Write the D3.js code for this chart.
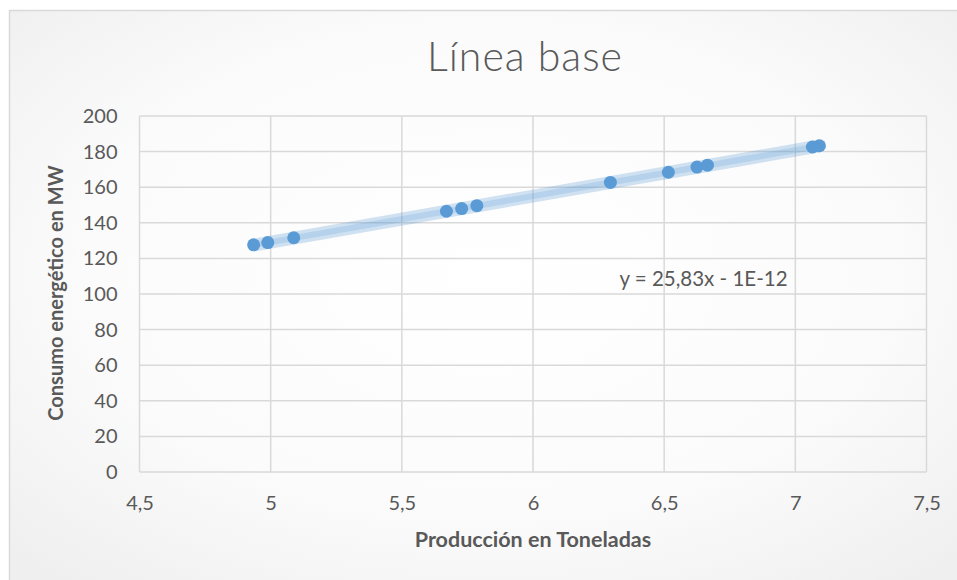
<!DOCTYPE html>
<html>
<head>
<meta charset="utf-8">
<script src="https://cdn.jsdelivr.net/npm/d3@7"></script>
<style>
  html, body { margin: 0; padding: 0; background: #ffffff; }
  svg { display: block; }
  text { font-family: Lato, "Open Sans", sans-serif; }
</style>
</head>
<body>
<svg id="chart" width="957" height="580"></svg>
<script>
// Production (tonnes) vs. energy consumption (MW)
const produccion = [4.935, 4.989, 5.088, 5.670, 5.728, 5.786, 6.295, 6.516, 6.625, 6.665, 7.065, 7.092];
const consumo    = [127.6, 128.9, 131.6, 146.5, 148.0, 149.6, 162.7, 168.4, 171.3, 172.4, 182.6, 183.3];

// Linear trend shown on the chart
const pendiente = 25.83;
const intercepto = -1e-12;
const etiquetaTendencia = "y = 25,83x - 1E-12";

const xTicks = [4.5, 5, 5.5, 6, 6.5, 7, 7.5];
const yTicks = [0, 20, 40, 60, 80, 100, 120, 140, 160, 180, 200];

const titulo = "Línea base";
const tituloX = "Producción en Toneladas";
const tituloY = "Consumo energético en MW";

const svg = d3.select("#chart");
const W = 957, H = 580;
const plot = { left: 139.5, right: 926.5, top: 116, bottom: 472 };

// Chart area background with soft radial highlight
const defs = svg.append("defs");
const grad = defs.append("radialGradient")
  .attr("id", "bg").attr("cx", "50%").attr("cy", "45%").attr("r", "70%");
grad.append("stop").attr("offset", "0%").attr("stop-color", "#ffffff");
grad.append("stop").attr("offset", "60%").attr("stop-color", "#fbfbfb");
grad.append("stop").attr("offset", "100%").attr("stop-color", "#efefef");

svg.append("rect")
  .attr("x", 9.5).attr("y", 10.5).attr("width", W).attr("height", H)
  .attr("fill", "url(#bg)").attr("stroke", "#d9d9d9").attr("stroke-width", 1.5);

const x = d3.scaleLinear().domain([4.5, 7.5]).range([plot.left, plot.right]);
const y = d3.scaleLinear().domain([0, 200]).range([plot.bottom, plot.top]);

// Gridlines
const grid = svg.append("g");
grid.selectAll(".gy").data(yTicks).join("line")
  .attr("x1", plot.left).attr("x2", plot.right)
  .attr("y1", d => y(d)).attr("y2", d => y(d))
  .attr("stroke", "#d9d9d9").attr("stroke-width", 1.5);
grid.selectAll(".gx").data(xTicks).join("line")
  .attr("x1", d => x(d)).attr("x2", d => x(d))
  .attr("y1", plot.top).attr("y2", plot.bottom)
  .attr("stroke", "#d9d9d9").attr("stroke-width", 1.5);

const fmt = d => String(d).replace(".", ",");

// Axes (labels only, no domain/ticks)
const yAxis = svg.append("g")
  .attr("transform", `translate(${plot.left},0)`)
  .call(d3.axisLeft(y).tickValues(yTicks).tickSize(0).tickPadding(22).tickFormat(fmt));
yAxis.select(".domain").remove();
yAxis.selectAll("text").attr("fill", "#595959").attr("font-size", 20)
  .style("font-family", "Lato, 'Open Sans', sans-serif");

const xAxis = svg.append("g")
  .attr("transform", `translate(0,${plot.bottom})`)
  .call(d3.axisBottom(x).tickValues(xTicks).tickSize(0).tickPadding(24).tickFormat(fmt));
xAxis.select(".domain").remove();
xAxis.selectAll("text").attr("fill", "#595959").attr("font-size", 20)
  .style("font-family", "Lato, 'Open Sans', sans-serif");

// Trend line
const xMin = d3.min(produccion), xMax = d3.max(produccion);
const tendencia = [xMin, xMax].map(v => [v, pendiente * v + intercepto]);
const line = d3.line().x(d => x(d[0])).y(d => y(d[1]));
svg.append("path").datum(tendencia).attr("d", line)
  .attr("fill", "none").attr("stroke", "#5b9bd5").attr("stroke-opacity", 0.28)
  .attr("stroke-width", 13).attr("stroke-linecap", "butt");
svg.append("path").datum(tendencia).attr("d", line)
  .attr("fill", "none").attr("stroke", "#5b9bd5").attr("stroke-opacity", 0.22)
  .attr("stroke-width", 6).attr("stroke-linecap", "butt");

// Data points
svg.append("g").selectAll("circle")
  .data(produccion.map((p, i) => [p, consumo[i]]))
  .join("circle")
  .attr("cx", d => x(d[0])).attr("cy", d => y(d[1])).attr("r", 6.5)
  .attr("fill", "#5b9bd5");

// Trend equation label
svg.append("text")
  .attr("x", x(6.65)).attr("y", y(107.5))
  .attr("text-anchor", "middle").attr("dominant-baseline", "middle")
  .attr("fill", "#595959").attr("font-size", 20.5)
  .text(etiquetaTendencia);

// Title
svg.append("text")
  .attr("x", 525).attr("y", 61)
  .attr("text-anchor", "middle").attr("dominant-baseline", "middle")
  .attr("fill", "#595959").attr("font-size", 41).attr("font-weight", 300)
  .attr("letter-spacing", 1)
  .text(titulo);

// Axis titles
svg.append("text")
  .attr("x", x(6)).attr("y", 541)
  .attr("text-anchor", "middle").attr("dominant-baseline", "middle")
  .attr("fill", "#595959").attr("font-size", 21.5).attr("font-weight", 700)
  .text(tituloX);

svg.append("text")
  .attr("transform", `translate(58,${(plot.top + plot.bottom) / 2 - 1}) rotate(-90)`)
  .attr("text-anchor", "middle").attr("dominant-baseline", "middle")
  .attr("fill", "#595959").attr("font-size", 20).attr("font-weight", 700)
  .text(tituloY);
</script>
</body>
</html>
